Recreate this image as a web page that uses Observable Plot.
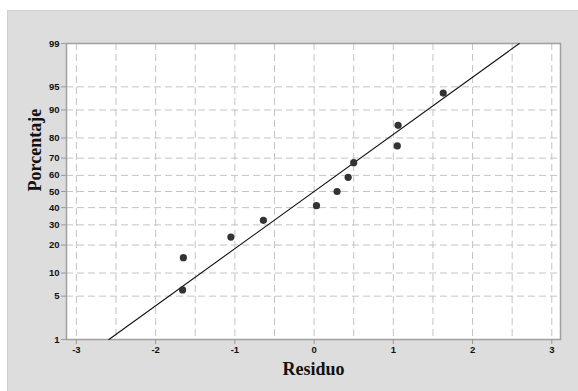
<!DOCTYPE html>
<html>
<head>
<meta charset="utf-8">
<script src="https://cdn.jsdelivr.net/npm/d3@7"></script>
<script src="https://cdn.jsdelivr.net/npm/@observablehq/plot@0.6"></script>
<style>
  html, body { margin: 0; padding: 0; background: #ffffff; }
  #wrap { position: relative; width: 578px; height: 391px; overflow: hidden; }
  #panel { position: absolute; left: 7px; top: 10px; width: 571px; height: 381px;
           background: #dddddd; border-left: 1px solid #cfcfcf; border-top: 1px solid #cfcfcf; box-sizing: border-box; }
  #chart { position: absolute; left: 0; top: 0; }
</style>
</head>
<body>
<div id="wrap"><div id="panel"></div><div id="chart"></div></div>
<script>
// Data
const residuo     = [-1.66, -1.65, -1.05, -0.64, 0.03, 0.29, 0.43, 0.50, 1.05, 1.06, 1.63];
const porcentaje  = [6.1, 14.9, 23.7, 32.5, 41.2, 50.0, 58.8, 67.5, 76.3, 85.1, 93.9];
const lineResiduo = [-2.59, 2.59];
const linePorcentaje = [1, 99];
const yTicks = [1, 5, 10, 20, 30, 40, 50, 60, 70, 80, 90, 95, 99];
const xTicks = [-3, -2, -1, 0, 1, 2, 3];
const xGrid  = [-3, -2.5, -2, -1.5, -1, -0.5, 0, 0.5, 1, 1.5, 2, 2.5, 3];

// Inverse normal CDF (Acklam) for the probability-plot scale
function probit(p) {
  const a = [-3.969683028665376e+01, 2.209460984245205e+02, -2.759285104469687e+02, 1.383577518672690e+02, -3.066479806614716e+01, 2.506628277459239e+00];
  const b = [-5.447609879822406e+01, 1.615858368580409e+02, -1.556989798598866e+02, 6.680131188771972e+01, -1.328068155288572e+01];
  const c = [-7.784894002430293e-03, -3.223964580411365e-01, -2.400758277161838e+00, -2.549732539343734e+00, 4.374664141464968e+00, 2.938163982698783e+00];
  const d = [7.784695709041462e-03, 3.224671290700398e-01, 2.445134137142996e+00, 3.754408661907416e+00];
  const pl = 0.02425, ph = 1 - pl;
  let q, r;
  if (p < pl) {
    q = Math.sqrt(-2 * Math.log(p));
    return (((((c[0]*q+c[1])*q+c[2])*q+c[3])*q+c[4])*q+c[5]) / ((((d[0]*q+d[1])*q+d[2])*q+d[3])*q+1);
  } else if (p <= ph) {
    q = p - 0.5; r = q*q;
    return (((((a[0]*r+a[1])*r+a[2])*r+a[3])*r+a[4])*r+a[5])*q / (((((b[0]*r+b[1])*r+b[2])*r+b[3])*r+b[4])*r+1);
  } else {
    q = Math.sqrt(-2 * Math.log(1 - p));
    return -(((((c[0]*q+c[1])*q+c[2])*q+c[3])*q+c[4])*q+c[5]) / ((((d[0]*q+d[1])*q+d[2])*q+d[3])*q+1);
  }
}
const z = pct => probit(pct / 100);
const yTickZ = yTicks.map(z);
const yLabel = v => { let best = 0; yTickZ.forEach((t, i) => { if (Math.abs(t - v) < Math.abs(yTickZ[best] - v)) best = i; }); return String(yTicks[best]); };

const points = residuo.map((r, i) => ({x: r, y: z(porcentaje[i])}));
const fit = lineResiduo.map((r, i) => ({x: r, y: z(linePorcentaje[i])}));

const chart = Plot.plot({
  width: 578, height: 391,
  marginLeft: 66, marginTop: 43, marginRight: 18, marginBottom: 52,
  style: {background: "transparent", fontFamily: "'Liberation Sans', Arial, sans-serif", fontSize: "9.5px", fontWeight: "bold", color: "#111"},
  x: {domain: [-3.125, 3.11]},
  y: {domain: [z(1), z(99)]},
  marks: [
    Plot.frame({fill: "white"}),
    Plot.ruleX(xGrid, {stroke: "#c4c4c4", strokeDasharray: "7,4", strokeWidth: 1}),
    Plot.ruleY(yTickZ.slice(1, -1), {stroke: "#c4c4c4", strokeDasharray: "7,4", strokeWidth: 1}),
    Plot.frame({stroke: "#a0a0a0", strokeWidth: 1.5}),
    Plot.axisX({ticks: xTicks, tickFormat: d => String(d), tickSize: 5, tickPadding: 2, stroke: "#999", fill: "#111", label: null}),
    Plot.axisY({ticks: yTickZ, tickFormat: yLabel, tickSize: 5, tickPadding: 2, stroke: "#999", fill: "#111", label: null}),
    Plot.line(fit, {x: "x", y: "y", stroke: "#111", strokeWidth: 1.1}),
    Plot.dot(points, {x: "x", y: "y", r: 3.6, fill: "#333", stroke: "none"}),
    Plot.text(["Residuo"], {frameAnchor: "bottom", dy: 35, fontFamily: "'Liberation Serif', 'Times New Roman', serif", fontSize: 18, fontWeight: "bold", fill: "#111"}),
    Plot.text(["Porcentaje"], {frameAnchor: "left", dx: -31, rotate: -90, fontFamily: "'Liberation Serif', 'Times New Roman', serif", fontSize: 18, fontWeight: "bold", fill: "#111"})
  ]
});
document.getElementById("chart").appendChild(chart);
</script>
</body>
</html>
